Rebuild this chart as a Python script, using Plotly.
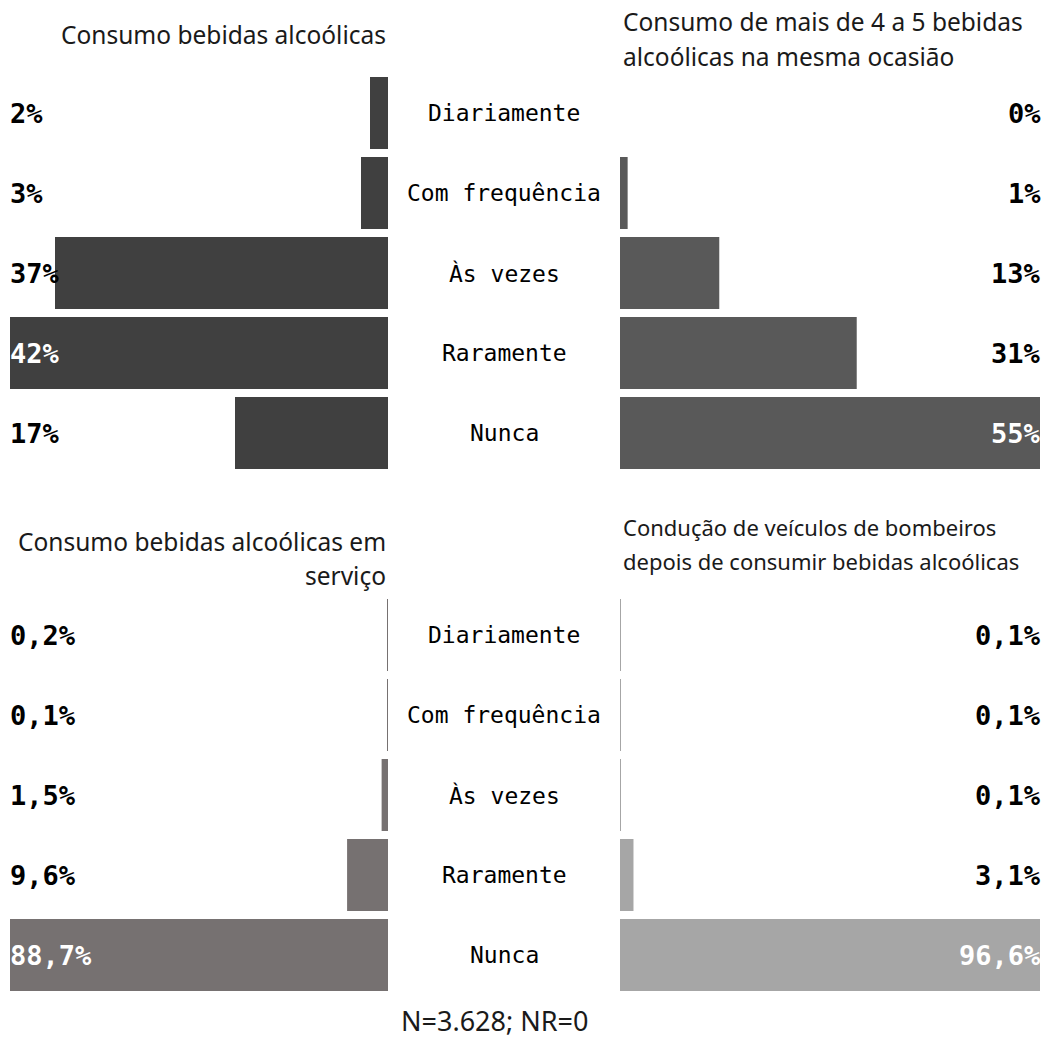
import plotly.graph_objects as go

# Response categories (top to bottom)
categories = ["Diariamente", "Com frequência", "Às vezes", "Raramente", "Nunca"]

# Percentages per question
consumo = [2, 3, 37, 42, 17]
consumo_excessivo = [0, 1, 13, 31, 55]
consumo_servico = [0.2, 0.1, 1.5, 9.6, 88.7]
conducao = [0.1, 0.1, 0.1, 3.1, 96.6]

footer = "N=3.628; NR=0"

W, H = 1045, 1050


def px_x(x):
    return x / W


def px_y(y):
    return 1 - y / H


def fmt_int(v):
    return f"{v:.0f}%"


def fmt_dec(v):
    return f"{v:.1f}".replace(".", ",") + "%"


panels = [
    dict(vals=consumo, color="#404040", xa="x", ya="y", side="left", fmt=fmt_int),
    dict(vals=consumo_excessivo, color="#595959", xa="x2", ya="y", side="right", fmt=fmt_int),
    dict(vals=consumo_servico, color="#767171", xa="x3", ya="y2", side="left", fmt=fmt_dec),
    dict(vals=conducao, color="#a6a6a6", xa="x4", ya="y2", side="right", fmt=fmt_dec),
]

fig = go.Figure()
annotations = []

label_font = dict(family="DejaVu Sans Mono", size=27, color="#000000", weight="bold")

for p in panels:
    fig.add_trace(go.Bar(
        x=p["vals"], y=categories, orientation="h",
        marker=dict(color=p["color"], line=dict(width=0)),
        xaxis=p["xa"], yaxis=p["ya"], hoverinfo="skip", showlegend=False,
    ))
    vmax = max(p["vals"])
    left = p["side"] == "left"
    for cat, v in zip(categories, p["vals"]):
        col = "#ffffff" if v == vmax else "#000000"
        annotations.append(dict(
            xref=p["xa"] + " domain", yref=p["ya"],
            x=0 if left else 1, y=cat,
            xanchor="left" if left else "right", yanchor="middle",
            xshift=-2 if left else 3,
            text=p["fmt"](v), showarrow=False,
            font=dict(label_font, color=col),
        ))

# Category labels in the central column
cat_font = dict(family="DejaVu Sans Mono", size=23, color="#000000")
for ya in ["y", "y2"]:
    for cat in categories:
        annotations.append(dict(
            xref="paper", yref=ya, x=px_x(504), y=cat,
            xanchor="center", yanchor="middle", text=cat, showarrow=False,
            font=cat_font,
        ))

title_font = dict(family="Noto Sans", size=24.5, color="#1a1a1a")
small_title_font = dict(family="Noto Sans", size=22, color="#1a1a1a")

titles = [
    ("Consumo bebidas alcoólicas", 388, 35, "right", title_font),
    ("Consumo de mais de 4 a 5 bebidas", 621, 22, "left", title_font),
    ("alcoólicas na mesma ocasião", 621, 57, "left", title_font),
    ("Consumo bebidas alcoólicas em", 388, 541, "right", title_font),
    ("serviço", 388, 575, "right", title_font),
    ("Condução de veículos de bombeiros", 621, 527, "left", small_title_font),
    ("depois de consumir bebidas alcoólicas", 621, 561, "left", small_title_font),
]
for text, x, y, anchor, f in titles:
    annotations.append(dict(
        xref="paper", yref="paper", x=px_x(x), y=px_y(y),
        xanchor=anchor, yanchor="middle", text=text, showarrow=False, font=f,
    ))

annotations.append(dict(
    xref="paper", yref="paper", x=px_x(494), y=px_y(1020),
    xanchor="center", yanchor="middle", text=footer, showarrow=False,
    font=dict(family="Noto Sans", size=27, color="#1a1a1a"),
))

left_dom = [px_x(10), px_x(388)]
right_dom = [px_x(620), px_x(1040)]
top_dom = [px_y(473), px_y(73)]
bot_dom = [px_y(995), px_y(595)]

hidden = dict(showgrid=False, zeroline=False, showticklabels=False, ticks="", showline=False)

fig.update_layout(
    width=W, height=H,
    margin=dict(l=0, r=0, t=0, b=0),
    paper_bgcolor="#ffffff", plot_bgcolor="#ffffff",
    bargap=0.1, showlegend=False,
    xaxis=dict(hidden, domain=left_dom, range=[max(consumo), 0], anchor="y"),
    xaxis2=dict(hidden, domain=right_dom, range=[0, max(consumo_excessivo)], anchor="y"),
    xaxis3=dict(hidden, domain=left_dom, range=[max(consumo_servico), 0], anchor="y2"),
    xaxis4=dict(hidden, domain=right_dom, range=[0, max(conducao)], anchor="y2"),
    yaxis=dict(hidden, domain=top_dom, autorange="reversed", anchor="x"),
    yaxis2=dict(hidden, domain=bot_dom, autorange="reversed", anchor="x3"),
    annotations=annotations,
)

fig.write_html("out.html")
